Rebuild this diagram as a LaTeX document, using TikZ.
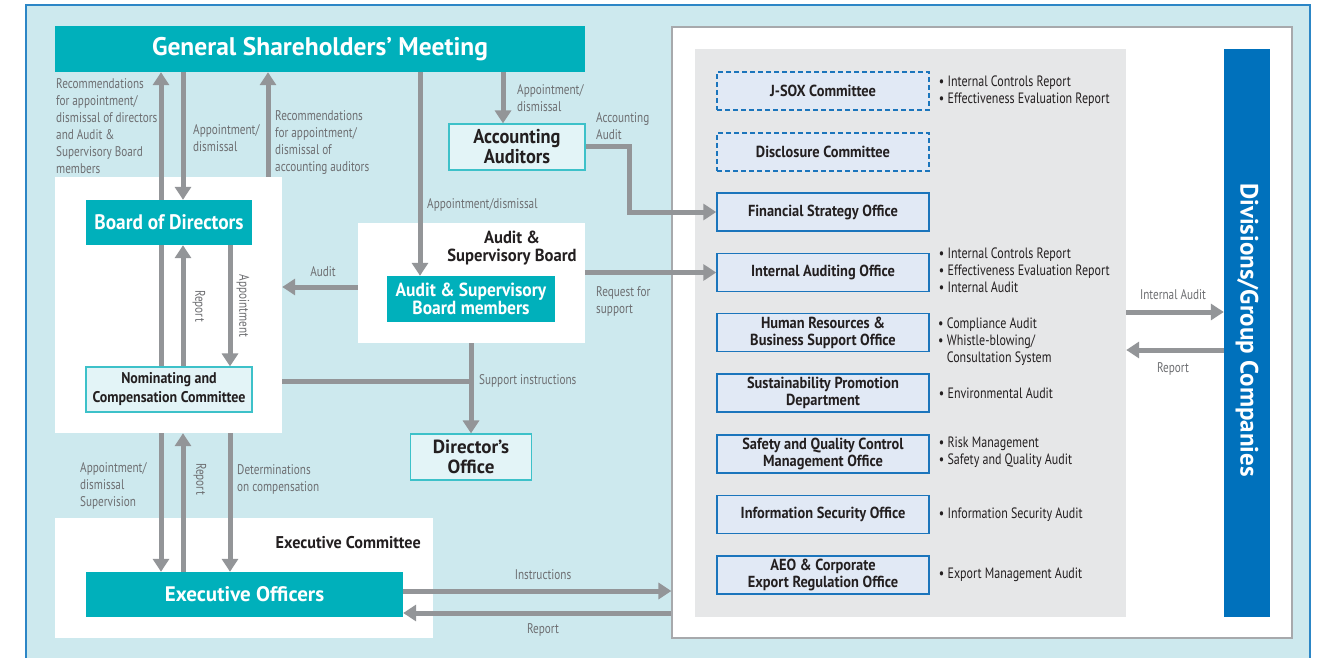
\documentclass[tikz,border=0pt]{standalone}
\usepackage{fontspec}
\setmainfont{PT Sans}
\newfontfamily\condf{PT Sans}[FakeStretch=0.8]
\newfontfamily\condb{PT Sans}[FakeStretch=0.9]
\newfontfamily\semib{PT Sans}[FakeStretch=0.95]
\newfontfamily\titlef{PT Sans}[FakeStretch=0.92]
\usetikzlibrary{arrows.meta}
\definecolor{bgblue}{HTML}{CDE9EE}
\definecolor{frameblue}{HTML}{2C86C6}
\definecolor{tealc}{HTML}{00B0BB}
\definecolor{paleteal}{HTML}{E3F4F7}
\definecolor{tealline}{HTML}{3DC1C9}
\definecolor{arrgray}{HTML}{939598}
\definecolor{panelgray}{HTML}{E6E7E8}
\definecolor{boxfill}{HTML}{E1E9F5}
\definecolor{boxline}{HTML}{1B75BC}
\definecolor{divblue}{HTML}{0071BC}
\definecolor{labgray}{HTML}{6D6E71}
\definecolor{darktext}{HTML}{231F20}
\definecolor{framegray}{HTML}{A7A9AC}
\begin{document}
\begin{tikzpicture}[x=1pt,y=-1pt,
  arr/.style={draw=arrgray,line width=5pt,-{Triangle[width=16pt,length=13pt]}},
  plain/.style={draw=arrgray,line width=5pt},
  tealbox/.style={fill=tealc,text=white,inner sep=0pt,align=center},
  palebox/.style={fill=paleteal,draw=tealline,line width=1.2pt,text=darktext,inner sep=0pt,align=center},
  whitebox/.style={fill=white,inner sep=0pt},
  unitbox/.style={fill=boxfill,draw=boxline,line width=1.5pt,minimum width=212pt,minimum height=38pt,inner sep=0pt,align=center,text=darktext,font=\condb\bfseries\fontsize{16}{17}\selectfont},
  dashbox/.style={unitbox,dash pattern=on 5pt off 3pt},
  glab/.style={text=labgray,font=\condf\fontsize{14}{17}\selectfont,inner sep=0pt,align=left},
  blist/.style={text=darktext,font=\condf\fontsize{15}{17}\selectfont,inner sep=0pt,align=left,anchor=west},
]
\useasboundingbox (0,0) rectangle (1326,658);
\fill[white] (0,0) rectangle (1326,658);
\draw[fill=bgblue,draw=frameblue,line width=1.5pt] (26,5) rectangle (1310,675);

% coordinates
\coordinate (x161) at (161,0);
\coordinate (x183) at (183,0);
\coordinate (x230) at (230,0);
\coordinate (x268) at (268,0);
\coordinate (x420) at (420,0);
\coordinate (x471) at (471,0);
\coordinate (x503) at (503,0);
\coordinate (yaud) at (0,287);
\coordinate (ysup) at (0,381);
\coordinate (yins) at (0,591);
\coordinate (yrep) at (0,613);
\coordinate (yia) at (0,312);
\coordinate (yr2) at (0,350);

% left side
\node[tealbox,minimum width=530pt,minimum height=46pt,font=\bfseries\fontsize{25.5}{25.5}\selectfont] (gsm) at (320,49) {General Shareholders’ Meeting};
\node[whitebox,minimum width=227pt,minimum height=256pt] (lw) at (168.5,305) {};
\node[tealbox,minimum width=166pt,minimum height=45pt,font=\titlef\bfseries\fontsize{21}{21}\selectfont] (bod) at (169,222.5) {Board of Directors};
\node[palebox,minimum width=166pt,minimum height=45pt,font=\condb\bfseries\fontsize{15.5}{19}\selectfont] (ncc) at (169,389.5) {Nominating and\\Compensation Committee};
\node[whitebox,minimum width=378pt,minimum height=120pt] (ew) at (244,578) {};
\node[tealbox,minimum width=317pt,minimum height=45pt,font=\bfseries\fontsize{21}{21}\selectfont] (exec) at (244.5,594.5) {Executive Officers};
\node[anchor=east,inner sep=0pt,text=darktext,font=\semib\bfseries\fontsize{17}{17}\selectfont] (ecl) at (421,543) {Executive Committee};

% middle
\node[palebox,minimum width=136pt,minimum height=46pt,font=\titlef\bfseries\fontsize{20}{20}\selectfont] (acc) at (517,147) {Accounting\\Auditors};
\node[whitebox,minimum width=227pt,minimum height=120pt] (asbw) at (471.5,283) {};
\node[inner sep=0pt,text=darktext,align=center,font=\semib\bfseries\fontsize{17.5}{18}\selectfont] (asbl) at (512,248) {Audit \&\\Supervisory Board};
\node[tealbox,minimum width=168pt,minimum height=46pt,font=\titlef\bfseries\fontsize{19}{17}\selectfont] (asbm) at (471,299) {Audit \& Supervisory\\Board members};
\node[palebox,minimum width=121pt,minimum height=46pt,font=\bfseries\fontsize{19}{20}\selectfont] (diroff) at (471,457) {Director’s\\Office};

% right side
\node[fill=white,draw=framegray,line width=1.2pt,minimum width=620pt,minimum height=611pt,inner sep=0pt] (bw) at (982,332.5) {};
\node[fill=panelgray,minimum width=431pt,minimum height=568pt,inner sep=0pt] (panel) at (910.5,333) {};
\node[fill=divblue,minimum width=46pt,minimum height=568pt,inner sep=0pt] (divs) at (1247,333) {};
\node[rotate=-90,text=white,inner sep=0pt,font=\bfseries\fontsize{25}{25}\selectfont] (divl) at (1247,330) {Divisions/Group Companies};

\node[dashbox] (jsox) at (823,91) {J-SOX Committee};
\node[dashbox] (disc) at (823,152) {Disclosure Committee};
\node[unitbox] (fso) at (823,212) {Financial Strategy Office};
\node[unitbox] (iao) at (823,272.5) {Internal Auditing Office};
\node[unitbox] (hr) at (823,332.5) {Human Resources \&\\Business Support Office};
\node[unitbox] (spd) at (823,393) {Sustainability Promotion\\Department};
\node[unitbox] (sqc) at (823,454) {Safety and Quality Control\\Management Office};
\node[unitbox] (iso) at (823,514.5) {Information Security Office};
\node[unitbox] (aeo) at (823,575) {AEO \& Corporate\\Export Regulation Office};

\node[blist] (b1) at ([xshift=9pt]jsox.east) {• Internal Controls Report\\• Effectiveness Evaluation Report};
\node[blist] (b2) at ([xshift=9pt,yshift=2pt]iao.east) {• Internal Controls Report\\• Effectiveness Evaluation Report\\• Internal Audit};
\node[blist,anchor=north west] (b3) at (938,318) {• Compliance Audit\\• Whistle-blowing/\\\phantom{• }Consultation System};
\node[blist] (b4) at ([xshift=9pt]spd.east) {• Environmental Audit};
\node[blist] (b5) at ([xshift=9pt,yshift=2pt]sqc.east) {• Risk Management\\• Safety and Quality Audit};
\node[blist] (b6) at ([xshift=9pt]iso.east) {• Information Security Audit};
\node[blist] (b7) at ([xshift=9pt]aeo.east) {• Export Management Audit};

% connectors
\draw[arr] (x161 |- bod.north) -- (x161 |- gsm.south);
\draw[plain] (x161 |- ncc.north) -- (x161 |- bod.south);
\draw[arr] (x183 |- gsm.south) -- (x183 |- bod.north);
\draw[arr] (x268 |- lw.north) -- (x268 |- gsm.south);
\draw[arr] (x183 |- ncc.north) -- (x183 |- bod.south);
\draw[arr] (x230 |- bod.south) -- (x230 |- ncc.north);
\draw[arr] (x161 |- lw.south) -- (x161 |- exec.north);
\draw[arr] (x183 |- exec.north) -- (x183 |- lw.south);
\draw[arr] (x230 |- lw.south) -- (x230 |- exec.north);
\draw[arr] (x503 |- gsm.south) -- (x503 |- acc.north);
\draw[arr] (x420 |- gsm.south) -- (x420 |- asbm.north);
\draw[arr] (acc.east) -- ++(44pt,0pt) |- (fso.west);
\draw[arr] (asbw.west |- yaud) -- (lw.east |- yaud);
\draw[arr] (asbw.east |- iao.west) -- (iao.west);
\draw[plain] (lw.east |- ysup) -- (x471 |- ysup);
\draw[arr] (x471 |- asbw.south) -- (x471 |- diroff.north);
\draw[arr] (exec.east |- yins) -- (bw.west |- yins);
\draw[arr] (bw.west |- yrep) -- (exec.east |- yrep);
\draw[arr] (panel.east |- yia) -- (divs.west |- yia);
\draw[arr] (divs.west |- yr2) -- (panel.east |- yr2);

% labels
\node[glab,anchor=north west] (l1) at (56,78) {Recommendations\\for appointment/\\dismissal of directors\\and Audit \&\\Supervisory Board\\members};
\node[glab,anchor=north west] (l2) at (193,124) {Appointment/\\dismissal};
\node[glab,anchor=north west] (l3) at (275,110) {Recommendations\\for appointment/\\dismissal of\\accounting auditors};
\node[glab,anchor=north west] (l4) at (517,84) {Appointment/\\dismissal};
\node[glab,anchor=north west] (l5) at (596,112) {Accounting\\Audit};
\node[glab,anchor=north west] (l6) at (427,198) {Appointment/dismissal};
\node[glab,anchor=north] (l7) at (323,266) {Audit};
\node[glab,anchor=north west] (l8) at (596,286) {Request for\\support};
\node[glab,anchor=north west] (l9) at (479,374) {Support instructions};
\node[glab,rotate=-90] (l10) at (199,306) {Report};
\node[glab,rotate=-90] (l11) at (243,306) {Appointment};
\node[glab,anchor=north west] (l12) at (80,462) {Appointment/\\dismissal\\Supervision};
\node[glab,rotate=-90] (l13) at (200,479) {Report};
\node[glab,anchor=north west] (l14) at (237,464) {Determinations\\on compensation};
\node[glab,anchor=north] (l15) at (543,569) {Instructions};
\node[glab,anchor=north] (l16) at (543,623) {Report};
\node[glab,anchor=north] (l17) at (1173,289) {Internal Audit};
\node[glab,anchor=north] (l18) at (1173,362) {Report};
\end{tikzpicture}
\end{document}
